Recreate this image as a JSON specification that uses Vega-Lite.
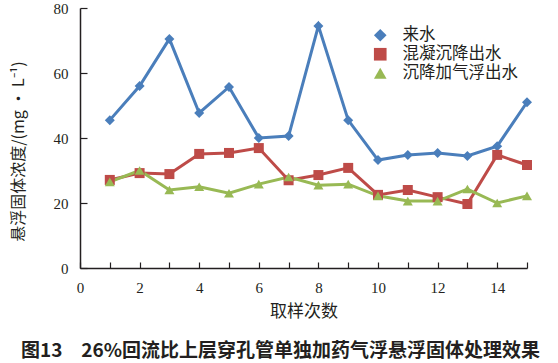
{
  "$schema": "https://vega.github.io/schema/vega-lite/v6.json",
  "width": 447,
  "height": 260,
  "autosize": "none",
  "padding": {"left": 80, "top": 8, "right": 31, "bottom": 95},
  "background": "white",
  "title": {
    "text": "图13　26%回流比上层穿孔管单独加药气浮悬浮固体处理效果",
    "orient": "bottom",
    "anchor": "middle",
    "offset": 23,
    "dx": -23,
    "font": "Noto Sans CJK SC",
    "fontSize": 19,
    "fontWeight": "bold",
    "color": "#231f20"
  },
  "config": {
    "view": {"stroke": null},
    "axis": {"grid": false, "domainColor": "#231f20", "tickColor": "#231f20", "domainWidth": 1.5, "tickWidth": 1.2, "labelFont": "Liberation Serif", "labelFontSize": 15, "labelColor": "#231f20", "titleFont": "Noto Sans CJK SC", "titleFontSize": 17, "titleFontWeight": "normal", "titleColor": "#231f20"}
  },
  "data": {"values": [
    {"x": 1, "s": "来水", "v": 45.5}, {"x": 2, "s": "来水", "v": 56}, {"x": 3, "s": "来水", "v": 70.5}, {"x": 4, "s": "来水", "v": 47.7}, {"x": 5, "s": "来水", "v": 55.7}, {"x": 6, "s": "来水", "v": 40}, {"x": 7, "s": "来水", "v": 40.6}, {"x": 8, "s": "来水", "v": 74.5}, {"x": 9, "s": "来水", "v": 45.5}, {"x": 10, "s": "来水", "v": 33.2}, {"x": 11, "s": "来水", "v": 34.8}, {"x": 12, "s": "来水", "v": 35.4}, {"x": 13, "s": "来水", "v": 34.5}, {"x": 14, "s": "来水", "v": 37.5}, {"x": 15, "s": "来水", "v": 51},
    {"x": 1, "s": "混凝沉降出水", "v": 27.1}, {"x": 2, "s": "混凝沉降出水", "v": 29.2}, {"x": 3, "s": "混凝沉降出水", "v": 28.9}, {"x": 4, "s": "混凝沉降出水", "v": 35.1}, {"x": 5, "s": "混凝沉降出水", "v": 35.4}, {"x": 6, "s": "混凝沉降出水", "v": 36.9}, {"x": 7, "s": "混凝沉降出水", "v": 27}, {"x": 8, "s": "混凝沉降出水", "v": 28.6}, {"x": 9, "s": "混凝沉降出水", "v": 30.8}, {"x": 10, "s": "混凝沉降出水", "v": 22.5}, {"x": 11, "s": "混凝沉降出水", "v": 24}, {"x": 12, "s": "混凝沉降出水", "v": 21.8}, {"x": 13, "s": "混凝沉降出水", "v": 19.7}, {"x": 14, "s": "混凝沉降出水", "v": 34.8}, {"x": 15, "s": "混凝沉降出水", "v": 31.7},
    {"x": 1, "s": "沉降加气浮出水", "v": 26.5}, {"x": 2, "s": "沉降加气浮出水", "v": 30}, {"x": 3, "s": "沉降加气浮出水", "v": 24}, {"x": 4, "s": "沉降加气浮出水", "v": 25}, {"x": 5, "s": "沉降加气浮出水", "v": 23}, {"x": 6, "s": "沉降加气浮出水", "v": 25.8}, {"x": 7, "s": "沉降加气浮出水", "v": 28}, {"x": 8, "s": "沉降加气浮出水", "v": 25.5}, {"x": 9, "s": "沉降加气浮出水", "v": 25.8}, {"x": 10, "s": "沉降加气浮出水", "v": 22.2}, {"x": 11, "s": "沉降加气浮出水", "v": 20.6}, {"x": 12, "s": "沉降加气浮出水", "v": 20.6}, {"x": 13, "s": "沉降加气浮出水", "v": 24.3}, {"x": 14, "s": "沉降加气浮出水", "v": 20}, {"x": 15, "s": "沉降加气浮出水", "v": 22.2}
  ]},
  "encoding": {
    "x": {"field": "x", "type": "quantitative", "title": "取样次数",
      "scale": {"domain": [0, 15], "nice": false},
      "axis": {"values": [0,1,2,3,4,5,6,7,8,9,10,11,12,13,14,15], "labelExpr": "datum.value % 2 == 0 ? datum.label : ''", "tickSize": -6, "labelPadding": 18, "titlePadding": 8, "labelFlush": false}},
    "y": {"field": "v", "type": "quantitative", "title": "悬浮固体浓度/(mg • L⁻¹)",
      "scale": {"domain": [0, 80], "nice": false},
      "axis": {"values": [0, 20, 40, 60, 80], "tickSize": -7, "labelPadding": 19, "titleX": -54, "titleY": 143, "titleFontSize": 16}},
    "color": {"field": "s", "type": "nominal",
      "scale": {"domain": ["来水", "混凝沉降出水", "沉降加气浮出水"], "range": ["#4a7ebb", "#be4b48", "#98b954"]},
      "legend": {"title": null, "orient": "none", "legendX": 292, "legendY": 19, "symbolSize": 160, "labelFont": "Noto Sans CJK SC", "labelFontSize": 16.5, "labelColor": "#231f20", "labelOffset": 14, "rowPadding": 2, "symbolStrokeWidth": 0, "symbolOpacity": 1}
    }
  },
  "layer": [
    {
      "mark": {"type": "line", "strokeWidth": 3}
    },
    {
      "mark": {"type": "point", "filled": true, "size": 100, "opacity": 1},
      "encoding": {
        "shape": {"field": "s", "type": "nominal",
          "scale": {"domain": ["来水", "混凝沉降出水", "沉降加气浮出水"], "range": ["diamond", "square", "triangle-up"]}}
      }
    }
  ]
}
